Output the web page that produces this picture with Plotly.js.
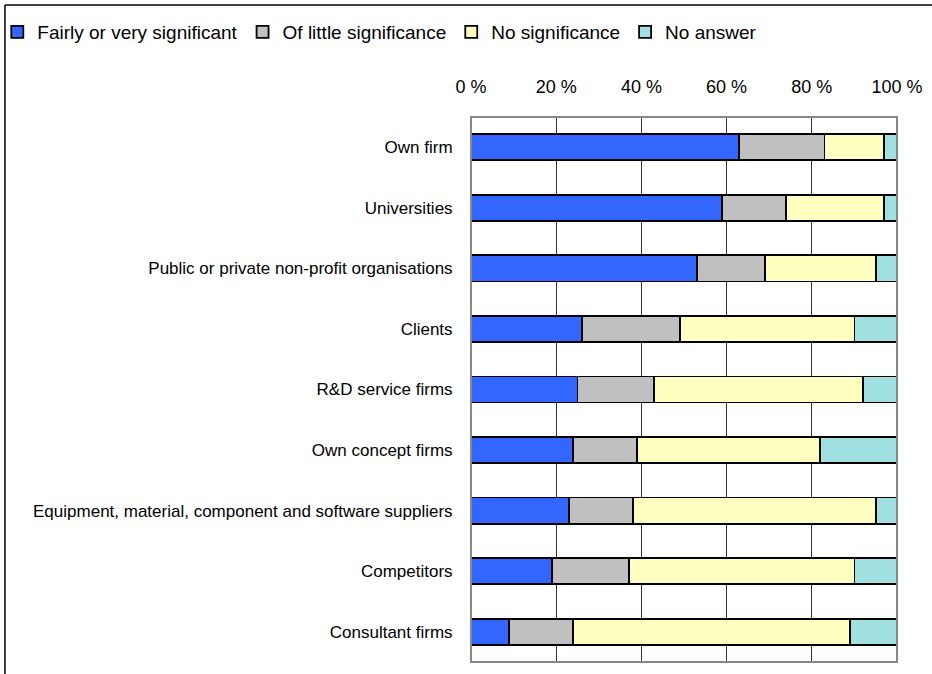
<!DOCTYPE html>
<html>
<head>
<meta charset="utf-8">
<script src="https://cdn.plot.ly/plotly-3.0.1.min.js"></script>
<style>
html,body{margin:0;padding:0;background:#fff;}
#chart{width:932px;height:674px;}
</style>
</head>
<body>
<div id="chart"></div>
<script>
const categories = [
  "Own firm",
  "Universities",
  "Public or private non-profit organisations",
  "Clients",
  "R&D service firms",
  "Own concept firms",
  "Equipment, material, component and software suppliers",
  "Competitors",
  "Consultant firms"
];
const seriesNames = ["Fairly or very significant", "Of little significance", "No significance", "No answer"];
const fairlyOrVery   = [63, 59, 53, 26, 25, 24, 23, 19, 9];
const littleSignif   = [20, 15, 16, 23, 18, 15, 15, 18, 15];
const noSignif       = [14, 23, 26, 41, 49, 43, 57, 53, 65];
const noAnswer       = [3, 3, 5, 10, 8, 18, 5, 10, 11];
const tickValues = [0, 20, 40, 60, 80, 100];
const tickLabels = ["0 %", "20 %", "40 %", "60 %", "80 %", "100 %"];

const colors = ["#3366FF", "#C0C0C0", "#FFFFC0", "#A0E0E0"];
const seriesData = [fairlyOrVery, littleSignif, noSignif, noAnswer];

const traces = seriesData.map((vals, i) => ({
  type: "bar",
  orientation: "h",
  name: seriesNames[i],
  y: categories,
  x: vals,
  marker: {color: colors[i], line: {color: "#000000", width: 1.8}},
  hoverinfo: "x+y+name"
}));

const layout = {
  width: 932,
  height: 674,
  margin: {l: 471, r: 35, t: 117, b: 12, autoexpand: false},
  paper_bgcolor: "#ffffff",
  plot_bgcolor: "#ffffff",
  font: {family: "Liberation Sans, Arial, sans-serif", color: "#000000"},
  barmode: "stack",
  bargap: 0.57,
  showlegend: true,
  legend: {
    orientation: "h",
    x: -1.112, xanchor: "left",
    y: 1.156, yanchor: "middle",
    font: {size: 19},
    itemwidth: 30,
    traceorder: "normal",
    bgcolor: "rgba(0,0,0,0)"
  },
  xaxis: {
    side: "top",
    range: [0, 100],
    tickvals: tickValues,
    ticktext: tickLabels,
    tickfont: {size: 18},
    showgrid: true,
    gridcolor: "#333333",
    gridwidth: 1,
    zeroline: false,
    showline: false,
    ticks: "outside",
    ticklen: 16,
    tickcolor: "rgba(0,0,0,0)",
    fixedrange: true
  },
  yaxis: {
    autorange: "reversed",
    tickfont: {size: 17},
    showgrid: false,
    zeroline: false,
    showline: false,
    ticks: "outside",
    ticklen: 14,
    tickcolor: "rgba(0,0,0,0)",
    fixedrange: true
  },
  shapes: [
    {type: "rect", xref: "paper", yref: "paper", x0: 0, x1: 1, y0: 0, y1: 1,
     line: {color: "#888888", width: 2}, fillcolor: "rgba(0,0,0,0)", layer: "above"},
    {type: "line", xref: "paper", yref: "paper", x0: -1.094, x1: -1.094, y0: -0.05, y1: 1.2055,
     line: {color: "#000000", width: 1.5}},
    {type: "line", xref: "paper", yref: "paper", x0: -1.094, x1: 1.1, y0: 1.2055, y1: 1.2055,
     line: {color: "#000000", width: 1.5}}
  ]
};

Plotly.newPlot("chart", traces, layout, {displayModeBar: false, staticPlot: true});
</script>
</body>
</html>
